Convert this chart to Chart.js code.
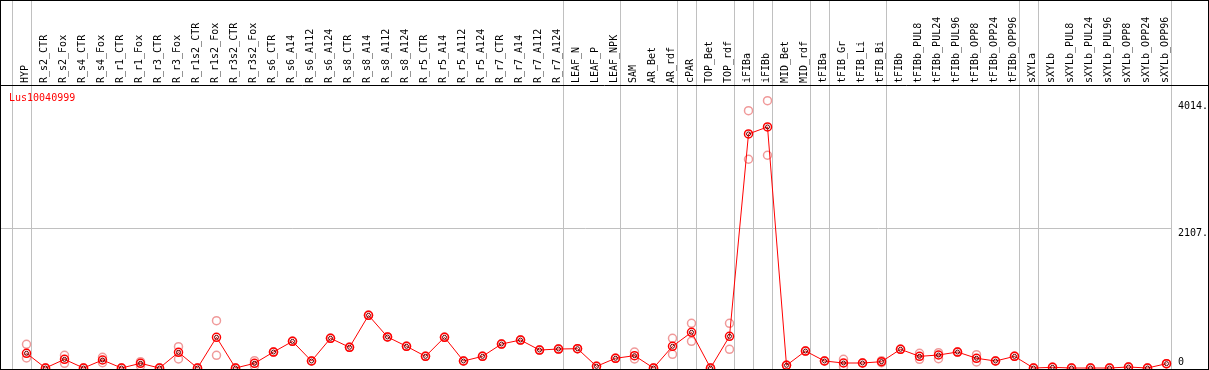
<!DOCTYPE html>
<html>
<head>
<meta charset="utf-8">
<script src="https://cdn.jsdelivr.net/npm/chart.js@4.4.1/dist/chart.umd.min.js"></script>
<style>
  html, body { margin: 0; padding: 0; background: #fff; }
  canvas { display: block; }
</style>
</head>
<body>
<canvas id="grafico" width="1209" height="370"></canvas>
<script>
const nombreGen = "Lus10040999";

const categorias = [
  "HYP", "R_s2_CTR", "R_s2_Fox", "R_s4_CTR", "R_s4_Fox", "R_r1_CTR", "R_r1_Fox",
  "R_r3_CTR", "R_r3_Fox", "R_r1s2_CTR", "R_r1s2_Fox", "R_r3s2_CTR", "R_r3s2_Fox",
  "R_s6_CTR", "R_s6_A14", "R_s6_A112", "R_s6_A124", "R_s8_CTR", "R_s8_A14",
  "R_s8_A112", "R_s8_A124", "R_r5_CTR", "R_r5_A14", "R_r5_A112", "R_r5_A124",
  "R_r7_CTR", "R_r7_A14", "R_r7_A112", "R_r7_A124", "LEAF_N", "LEAF_P", "LEAF_NPK",
  "SAM", "AR_Bet", "AR_rdf", "cPAR", "TOP_Bet", "TOP_rdf", "iFIBa", "iFIBb",
  "MID_Bet", "MID_rdf", "tFIBa", "tFIB_Gr", "tFIB_Li", "tFIB_Bi", "tFIBb",
  "tFIBb_PUL8", "tFIBb_PUL24", "tFIBb_PUL96", "tFIBb_OPP8", "tFIBb_OPP24", "tFIBb_OPP96",
  "sXYLa", "sXYLb", "sXYLb_PUL8", "sXYLb_PUL24", "sXYLb_PUL96", "sXYLb_OPP8",
  "sXYLb_OPP24", "sXYLb_OPP96"
];

// media de las replicas
const media = [
  221, 0, 130, 0, 120, 0, 70, 0, 235, 0, 461, 0, 70,
  240, 400, 105, 446, 311, 791, 466, 326, 175, 461, 105, 175,
  360, 420, 270, 285, 290, 25, 146, 185, 0, 326, 536, 0, 476,
  3515, 3620, 40, 255, 105, 75, 75, 95, 281,
  175, 195, 240, 146, 105, 175, 0, 10, 0, 0, 0, 15, 0, 65
];

// replicas individuales
const replicaA = [
  355, 0, 190, 0, 160, 0, 95, 0, 320, 0, 710, 0, 110,
  240, 400, 105, 446, 311, 791, 466, 326, 175, 461, 105, 175,
  360, 420, 270, 285, 290, 25, 146, 240, 0, 446, 671, 0, 671,
  3865, 4014, 40, 255, 105, 130, 75, 110, 281,
  220, 230, 240, 200, 105, 175, 0, 10, 0, 0, 0, 15, 0, 65
];
const replicaB = [
  150, 0, 70, 0, 80, 0, 30, 0, 135, 0, 190, 0, 30,
  240, 400, 105, 446, 311, 791, 466, 326, 175, 461, 105, 175,
  360, 420, 270, 285, 290, 25, 146, 135, 0, 206, 401, 0, 281,
  3135, 3195, 40, 255, 105, 20, 75, 80, 281,
  130, 140, 240, 90, 105, 175, 0, 10, 0, 0, 0, 15, 0, 65
];

const yTicks = [0, 2107, 4014];
const yTickLabels = ["0", "2107.", "4014."];
const yMax = 4235;

// indices tras los que va una linea separadora
const separadores = [-1, 0, 28, 31, 34, 35, 37, 38, 39, 41, 42, 45, 52, 53, 60];

const fuente = { family: "DejaVu Sans Mono", size: 10 };

const marco = {
  id: "marco",
  beforeDatasetsDraw(chart) {
    const { ctx, scales } = chart;
    const x = scales.x;
    const y = scales.y;
    const x0 = x.getPixelForValue(0);
    const paso = x.getPixelForValue(1) - x0;
    ctx.save();
    ctx.strokeStyle = "#c0c0c0";
    ctx.lineWidth = 1;
    let ultimo = 0;
    separadores.forEach((s) => {
      const px = Math.round(x0 + s * paso + 4) + 0.5;
      ultimo = px;
      ctx.beginPath();
      ctx.moveTo(px, 0);
      ctx.lineTo(px, chart.height);
      ctx.stroke();
    });
    const py = Math.round(y.getPixelForValue(yTicks[1])) + 0.5;
    ctx.beginPath();
    ctx.moveTo(0, py);
    ctx.lineTo(ultimo, py);
    ctx.stroke();
    ctx.restore();
  },
  afterDraw(chart) {
    const { ctx, chartArea } = chart;
    ctx.save();
    ctx.strokeStyle = "#000";
    ctx.lineWidth = 1;
    ctx.strokeRect(0.5, 0.5, chart.width - 1, chart.height - 1);
    ctx.beginPath();
    ctx.moveTo(0, chartArea.top - 0.5);
    ctx.lineTo(chart.width, chartArea.top - 0.5);
    ctx.stroke();
    ctx.fillStyle = "#ff0000";
    ctx.font = "10px 'DejaVu Sans Mono'";
    ctx.textBaseline = "alphabetic";
    ctx.fillText(nombreGen, 9, chartArea.top + 15);
    ctx.restore();
  },
};

const ctx = document.getElementById("grafico").getContext("2d");

new Chart(ctx, {
  type: "line",
  data: {
    labels: categorias,
    datasets: [
      {
        label: "media_int",
        data: media,
        showLine: false,
        pointRadius: 2,
        pointBorderColor: "#600000",
        pointBackgroundColor: "rgba(0,0,0,0)",
        pointBorderWidth: 1,
        order: 0,
        clip: false,
      },
      {
        label: nombreGen,
        data: media,
        borderColor: "#ff0000",
        borderWidth: 1,
        tension: 0,
        pointRadius: 4,
        pointBorderColor: "#ff0000",
        pointBackgroundColor: "rgba(0,0,0,0)",
        pointBorderWidth: 1.5,
        order: 1,
        clip: false,
      },
      {
        label: "rep1",
        data: replicaA,
        showLine: false,
        pointRadius: 4,
        pointBorderColor: "#f09a9a",
        pointBackgroundColor: "rgba(0,0,0,0)",
        pointBorderWidth: 1.5,
        order: 2,
        clip: false,
      },
      {
        label: "rep2",
        data: replicaB,
        showLine: false,
        pointRadius: 4,
        pointBorderColor: "#f09a9a",
        pointBackgroundColor: "rgba(0,0,0,0)",
        pointBorderWidth: 1.5,
        order: 3,
        clip: false,
      },
    ],
  },
  options: {
    responsive: false,
    animation: false,
    layout: { autoPadding: false, padding: { left: 17, right: 0, top: 0, bottom: 2 } },
    plugins: {
      legend: { display: false },
      tooltip: { enabled: false },
      title: { display: false },
    },
    scales: {
      x: {
        type: "category",
        position: "top",
        offset: true,
        grid: { display: false, drawTicks: false },
        border: { display: false },
        ticks: {
          autoSkip: false,
          minRotation: 90,
          maxRotation: 90,
          padding: 3,
          labelOffset: 11,
          color: "#000",
          font: fuente,
        },
        afterFit(scale) {
          scale.height = 86;
        },
      },
      y: {
        position: "right",
        min: 0,
        max: yMax,
        grid: { display: false, drawTicks: false },
        border: { display: false },
        afterBuildTicks(scale) {
          scale.ticks = yTicks.map((v) => ({ value: v }));
        },
        ticks: {
          padding: 2,
          color: "#000",
          font: fuente,
          callback: (v, i) => (i === 0 ? [yTickLabels[i], ""] : ["", yTickLabels[i]]),
        },
        afterFit(scale) {
          scale.width = 33;
          scale.paddingTop = 0;
          scale.paddingBottom = 0;
        },
      },
    },
  },
  plugins: [marco],
});
</script>
</body>
</html>
